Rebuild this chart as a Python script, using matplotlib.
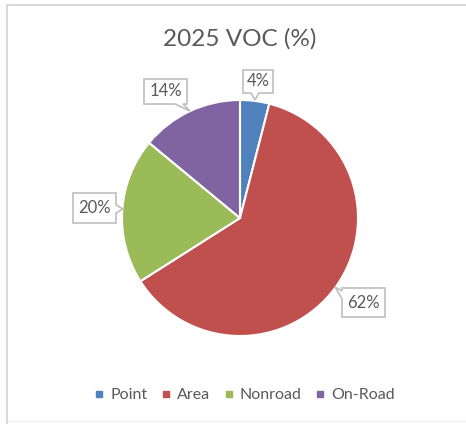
import matplotlib
matplotlib.use("Agg")
import matplotlib.pyplot as plt
from matplotlib.patches import Polygon
from matplotlib.lines import Line2D

# data
categories = ["Point", "Area", "Nonroad", "On-Road"]
values = [4, 62, 20, 14]
labels = ["4%", "62%", "20%", "14%"]
colors = ["#4F81BD", "#C0504D", "#9BBB59", "#8064A2"]

W, H = 466, 424
plt.rcParams['font.family'] = ['Lato', 'DejaVu Sans']

fig = plt.figure(figsize=(W / 100, H / 100), dpi=100)
ax = fig.add_axes([0, 0, 1, 1])


def py(y):
    # pixel row (top-down) -> data y
    return H - y


ax.pie(values, colors=colors, startangle=90, counterclock=False,
       center=(240, py(218)), radius=118, frame=True,
       wedgeprops=dict(edgecolor='white', linewidth=1.5))
ax.set_xlim(0, W)
ax.set_ylim(0, H)
ax.set_aspect('equal')
ax.axis('off')


def callout(text, box, edge, base, tip):
    x0, y0, x1, y1 = box
    pts = []
    corners = [(x0, y0), (x1, y0), (x1, y1), (x0, y1)]
    order = ['top', 'right', 'bottom', 'left']
    for i, c in enumerate(corners):
        pts.append(c)
        if order[i] == edge:
            a, b = base
            if edge == 'top':
                pts += [(a, y0), tip, (b, y0)]
            elif edge == 'right':
                pts += [(x1, a), tip, (x1, b)]
            elif edge == 'bottom':
                pts += [(b, y1), tip, (a, y1)]
            else:
                pts += [(x0, b), tip, (x0, a)]
    pts = [(x, py(y)) for x, y in pts]
    ax.add_patch(Polygon(pts, closed=True, facecolor='white',
                         edgecolor='#BFBFBF', linewidth=1.2, zorder=5))
    ax.text((x0 + x1) / 2, py((y0 + y1) / 2), text, ha='center', va='center',
            fontsize=12, color='#595959', zorder=6)


callout(labels[0], (243, 70, 273, 93), 'bottom', (251, 259), (255, 100))
callout(labels[3], (144, 79, 187, 104), 'bottom', (175, 183), (190, 111))
callout(labels[2], (73, 193, 116, 223), 'right', (205, 213), (123, 209))
callout(labels[1], (342, 288, 385, 317), 'left', (291, 299), (335, 287))

fig.text(240 / W, 1 - 39 / H, "2025 VOC (%)", ha='center', va='center',
         fontsize=17.5, color='#595959')

handles = [Line2D([], [], marker='s', linestyle='none', markersize=5,
                  markerfacecolor=c, markeredgecolor=c) for c in colors]
fig.legend(handles, categories, loc='center', ncol=4,
           bbox_to_anchor=(245 / W, 1 - 395 / H), frameon=False,
           fontsize=11.5, labelcolor='#595959', handlelength=0.5,
           handletextpad=0.45, columnspacing=0.9)

# chart frame
border = '#D9D9D9'
fig.add_artist(Line2D([8 / W, 1], [1 - 5 / H, 1 - 5 / H], color=border, lw=1.5))
fig.add_artist(Line2D([7 / W, 7 / W], [0, 1 - 5 / H], color=border, lw=1.5))
fig.add_artist(Line2D([8 / W, 1], [1 - 421 / H, 1 - 421 / H], color='#F0F0F0', lw=1))

fig.savefig("out.png", dpi=100, facecolor='white')
